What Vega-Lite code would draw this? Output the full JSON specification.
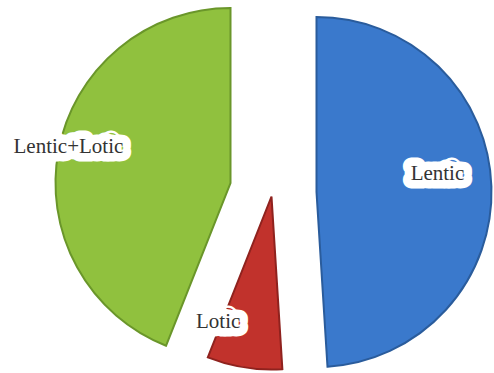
{
  "$schema": "https://vega.github.io/schema/vega-lite/v6.json",
  "width": 494,
  "height": 373,
  "padding": 0,
  "autosize": {"type": "fit", "contains": "padding"},
  "background": "white",
  "config": {"view": {"stroke": null}},
  "data": {
    "values": [
      {"category": "Lentic", "value": 49, "order": 1},
      {"category": "Lotic", "value": 7, "order": 2},
      {"category": "Lentic+Lotic", "value": 44, "order": 3}
    ]
  },
  "transform": [
    {"stack": "value", "groupby": [], "sort": [{"field": "order", "order": "ascending"}], "as": ["start", "end"]}
  ],
  "layer": [
    {
      "transform": [{"filter": "datum.category === 'Lentic'"}],
      "mark": {"type": "arc", "outerRadius": 175, "xOffset": 71, "yOffset": 6, "color": "#3a79cc", "stroke": "#2a5c9c", "strokeWidth": 2},
      "encoding": {
        "theta": {"field": "start", "type": "quantitative", "scale": {"domain": [0, 100]}},
        "theta2": {"field": "end"}
      }
    },
    {
      "transform": [{"filter": "datum.category === 'Lotic'"}],
      "mark": {"type": "arc", "outerRadius": 173, "xOffset": 26, "yOffset": 10.5, "color": "#c1322c", "stroke": "#8f221e", "strokeWidth": 2},
      "encoding": {
        "theta": {"field": "start", "type": "quantitative", "scale": {"domain": [0, 100]}},
        "theta2": {"field": "end"}
      }
    },
    {
      "transform": [{"filter": "datum.category === 'Lentic+Lotic'"}],
      "mark": {"type": "arc", "outerRadius": 175, "xOffset": -15, "yOffset": -3, "color": "#90c13e", "stroke": "#6a962a", "strokeWidth": 2},
      "encoding": {
        "theta": {"field": "start", "type": "quantitative", "scale": {"domain": [0, 100]}},
        "theta2": {"field": "end"}
      }
    },
    {
      "encoding": {
        "theta": {"field": "value", "type": "quantitative", "stack": true, "scale": {"domain": [0, 100]}},
        "order": {"field": "order"}
      },
      "layer": [
        {
          "mark": {"type": "text", "radius": 121, "xOffset": 71, "yOffset": 6, "dy": -14, "font": "Liberation Serif", "fontSize": 21, "color": "white", "stroke": "white", "strokeWidth": 17, "strokeJoin": "round"},
          "encoding": {"text": {"condition": {"test": "datum.category === 'Lentic'", "field": "category"}, "value": ""}}
        },
        {
          "mark": {"type": "text", "radius": 121, "xOffset": 71, "yOffset": 6, "dy": -14, "font": "Liberation Serif", "fontSize": 21, "color": "#333333"},
          "encoding": {"text": {"condition": {"test": "datum.category === 'Lentic'", "field": "category"}, "value": ""}}
        },
        {
          "mark": {"type": "text", "radius": 130, "xOffset": 26, "yOffset": 10.5, "dx": -33, "dy": -3, "font": "Liberation Serif", "fontSize": 21, "color": "white", "stroke": "white", "strokeWidth": 17, "strokeJoin": "round"},
          "encoding": {"text": {"condition": {"test": "datum.category === 'Lotic'", "field": "category"}, "value": ""}}
        },
        {
          "mark": {"type": "text", "radius": 130, "xOffset": 26, "yOffset": 10.5, "dx": -33, "dy": -3, "font": "Liberation Serif", "fontSize": 21, "color": "#333333"},
          "encoding": {"text": {"condition": {"test": "datum.category === 'Lotic'", "field": "category"}, "value": ""}}
        },
        {
          "mark": {"type": "text", "radius": 164, "xOffset": -15, "yOffset": -3, "dx": -1, "dy": -5, "font": "Liberation Serif", "fontSize": 21, "color": "white", "stroke": "white", "strokeWidth": 17, "strokeJoin": "round"},
          "encoding": {"text": {"condition": {"test": "datum.category === 'Lentic+Lotic'", "field": "category"}, "value": ""}}
        },
        {
          "mark": {"type": "text", "radius": 164, "xOffset": -15, "yOffset": -3, "dx": -1, "dy": -5, "font": "Liberation Serif", "fontSize": 21, "color": "#333333"},
          "encoding": {"text": {"condition": {"test": "datum.category === 'Lentic+Lotic'", "field": "category"}, "value": ""}}
        }
      ]
    }
  ]
}
